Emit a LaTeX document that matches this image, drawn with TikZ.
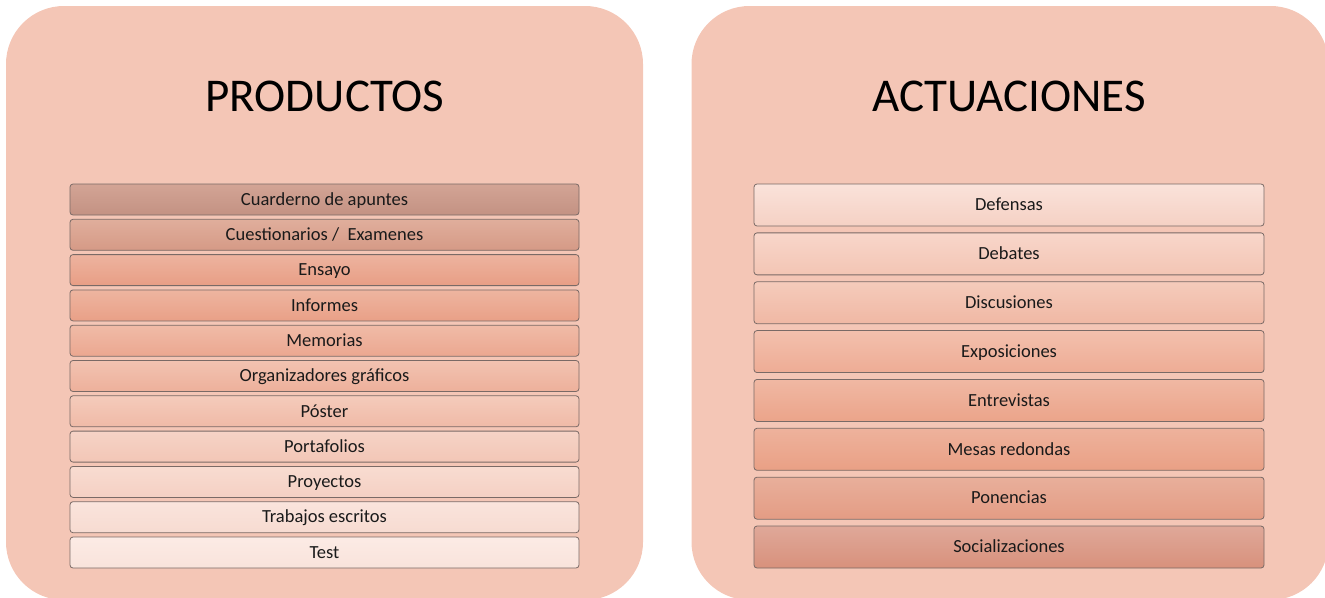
\documentclass[tikz,border=0pt]{standalone}
\usepackage{fontspec}
\setmainfont{Carlito}
\definecolor{panelc}{HTML}{F4C6B6}
\definecolor{rowline}{HTML}{7A6A66}
\definecolor{textc}{HTML}{1A1A1A}
% left list colours (top / bottom)
\definecolor{Lt1}{HTML}{D3A495}\definecolor{Lb1}{HTML}{C39283}
\definecolor{Lt2}{HTML}{E0AE9C}\definecolor{Lb2}{HTML}{D59A86}
\definecolor{Lt3}{HTML}{EDB39F}\definecolor{Lb3}{HTML}{E89E85}
\definecolor{Lt4}{HTML}{EEB5A0}\definecolor{Lb4}{HTML}{E9A087}
\definecolor{Lt5}{HTML}{F0BBA7}\definecolor{Lb5}{HTML}{EBA790}
\definecolor{Lt6}{HTML}{F2C3B1}\definecolor{Lb6}{HTML}{EDB09B}
\definecolor{Lt7}{HTML}{F4CBBB}\definecolor{Lb7}{HTML}{F0BAA7}
\definecolor{Lt8}{HTML}{F6D3C6}\definecolor{Lb8}{HTML}{F2C6B6}
\definecolor{Lt9}{HTML}{F8DCD1}\definecolor{Lb9}{HTML}{F5D0C3}
\definecolor{Lt10}{HTML}{FAE4DC}\definecolor{Lb10}{HTML}{F7DBD1}
\definecolor{Lt11}{HTML}{FCEBE5}\definecolor{Lb11}{HTML}{F9E3DB}
% right list colours
\definecolor{Rt1}{HTML}{FAE2DA}\definecolor{Rb1}{HTML}{F5D1C4}
\definecolor{Rt2}{HTML}{F8D6CA}\definecolor{Rb2}{HTML}{F3C5B4}
\definecolor{Rt3}{HTML}{F5CBBB}\definecolor{Rb3}{HTML}{F0B8A4}
\definecolor{Rt4}{HTML}{F3C0AD}\definecolor{Rb4}{HTML}{EEAC95}
\definecolor{Rt5}{HTML}{F0B8A3}\definecolor{Rb5}{HTML}{EBA48A}
\definecolor{Rt6}{HTML}{EEB29C}\definecolor{Rb6}{HTML}{E9A085}
\definecolor{Rt7}{HTML}{E8AF9B}\definecolor{Rb7}{HTML}{E49C84}
\definecolor{Rt8}{HTML}{DFA899}\definecolor{Rb8}{HTML}{D8917C}
\begin{document}
\begin{tikzpicture}[x=1pt,y=-1pt,
  panel/.style={fill=panelc, rounded corners=58pt, minimum width=637pt,
    minimum height=594pt, inner sep=0pt, outer sep=0pt},
  paneltitle/.style={font=\fontsize{47}{52}\selectfont, text=black, inner sep=0pt},
  rowbox/.style={draw=rowline, line width=0.8pt, rounded corners=3pt,
    inner sep=0pt, text height=13pt, text depth=1.5pt,
    font=\fontsize{18.5}{21}\selectfont, text=textc},
  rowleft/.style={rowbox, minimum width=509pt, minimum height=31pt},
  rowright/.style={rowbox, minimum width=510pt, minimum height=42pt}]
\useasboundingbox (0,0) rectangle (1325,597);
\clip (0,0) rectangle (1325,597);
\node[panel] (pl) at (324.5,303) {};
\node[panel] (pr) at (1010,303) {};
\node[paneltitle] (tl) at (325,96) {PRODUCTOS};
\node[paneltitle] (tr) at (1009,96) {ACTUACIONES};
\foreach \t [count=\i] in {Cuarderno de apuntes, Cuestionarios /~ Examenes, Ensayo,
  Informes, Memorias, Organizadores gráficos, Póster, Portafolios, Proyectos,
  Trabajos escritos, Test}
  \node[rowleft, top color=Lt\i, bottom color=Lb\i] (l\i) at (324.5,{199.5+35.3*(\i-1)}) {\t};
\foreach \t [count=\i] in {Defensas, Debates, Discusiones, Exposiciones, Entrevistas,
  Mesas redondas, Ponencias, Socializaciones}
  \node[rowright, top color=Rt\i, bottom color=Rb\i] (r\i) at (1009,{205+48.86*(\i-1)}) {\t};
\end{tikzpicture}
\end{document}
